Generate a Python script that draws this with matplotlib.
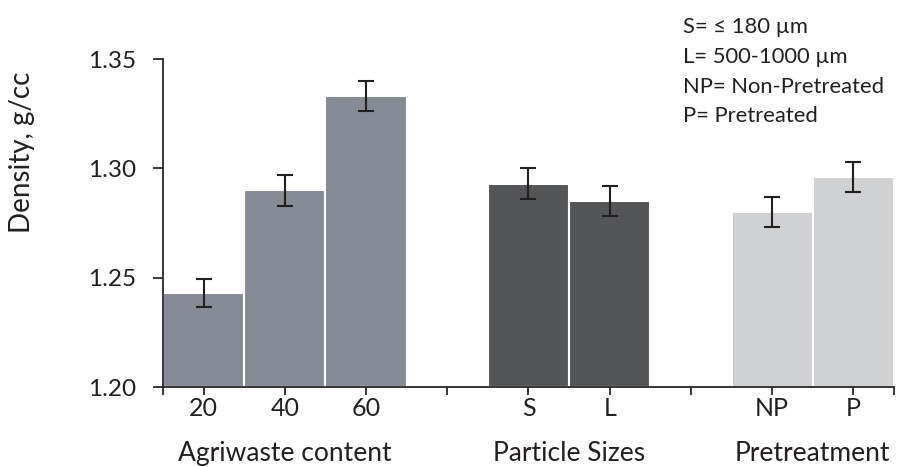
import numpy as np
import matplotlib
matplotlib.use('Agg')
import matplotlib.pyplot as plt

plt.rcParams['font.family'] = ['Lato', 'DejaVu Sans']

# bar data
tick_labels = ['20', '40', '60', '', 'S', 'L', '', 'NP', 'P']
density = [1.243, 1.290, 1.333, np.nan, 1.293, 1.285, np.nan, 1.280, 1.296]
errors = [0.0065, 0.007, 0.007, np.nan, 0.007, 0.007, np.nan, 0.007, 0.007]
bar_colors = ['#858a95', '#858a95', '#858a95', 'white',
              '#545557', '#545557', 'white', '#d0d1d3', '#d0d1d3']

groups = ['Agriwaste content', 'Particle Sizes', 'Pretreatment']
group_pos = [1, 4.5, 7.5]

notes = ['S= \u2264 180 \u00b5m', 'L= 500-1000 \u00b5m',
         'NP= Non-Pretreated', 'P= Pretreated']

axcol = '#262626'
txtcol = '#231f20'

fig = plt.figure(figsize=(9.03, 4.67), dpi=100)
ax = fig.add_axes([163/903, 1-387/467, (894-163)/903, (387-59)/467])

x = np.arange(len(tick_labels))
base = 1.20
heights = [d - base for d in density]
ax.bar(x, heights, bottom=base, width=1.0, color=bar_colors,
       edgecolor='white', linewidth=1.5, zorder=2)
ax.errorbar(x, density, yerr=errors, fmt='none', ecolor=txtcol,
            elinewidth=1.5, capsize=5.5, capthick=1.5, zorder=3)

ax.set_xlim(-0.5, 8.5)
ax.set_ylim(1.20, 1.35)
ax.set_yticks([1.20, 1.25, 1.30, 1.35])
ax.set_yticklabels(['1.20', '1.25', '1.30', '1.35'])
ax.set_xticks(list(x) + [-0.5, 8.5])
ax.set_xticklabels(tick_labels + ['', ''])

for s in ['top', 'right']:
    ax.spines[s].set_visible(False)
for s in ['left', 'bottom']:
    ax.spines[s].set_color(axcol)
    ax.spines[s].set_linewidth(1.3)
ax.tick_params(axis='y', direction='out', length=7, width=1.3, color=axcol,
               labelsize=17.5, labelcolor=txtcol, pad=12)
ax.tick_params(axis='x', direction='out', length=6, width=1.3, color=axcol,
               labelsize=18, labelcolor=txtcol, pad=1.5)

# group captions under the category labels
for g, p in zip(groups, group_pos):
    ax.text(p, 1.20 - 74/2186.7, g, ha='center', va='baseline', fontsize=19,
            color=txtcol, transform=ax.transData, clip_on=False)

fig.text(22/903, 1-152/467, 'Density, g/cc', rotation=90, ha='center',
         va='center', fontsize=20, color=txtcol)

for i, t in enumerate(notes):
    fig.text(683/903, 1-(33 + 29.8*i)/467, t, ha='left', va='baseline',
             fontsize=15.8, color=txtcol)

fig.savefig('out.png', dpi=100)
